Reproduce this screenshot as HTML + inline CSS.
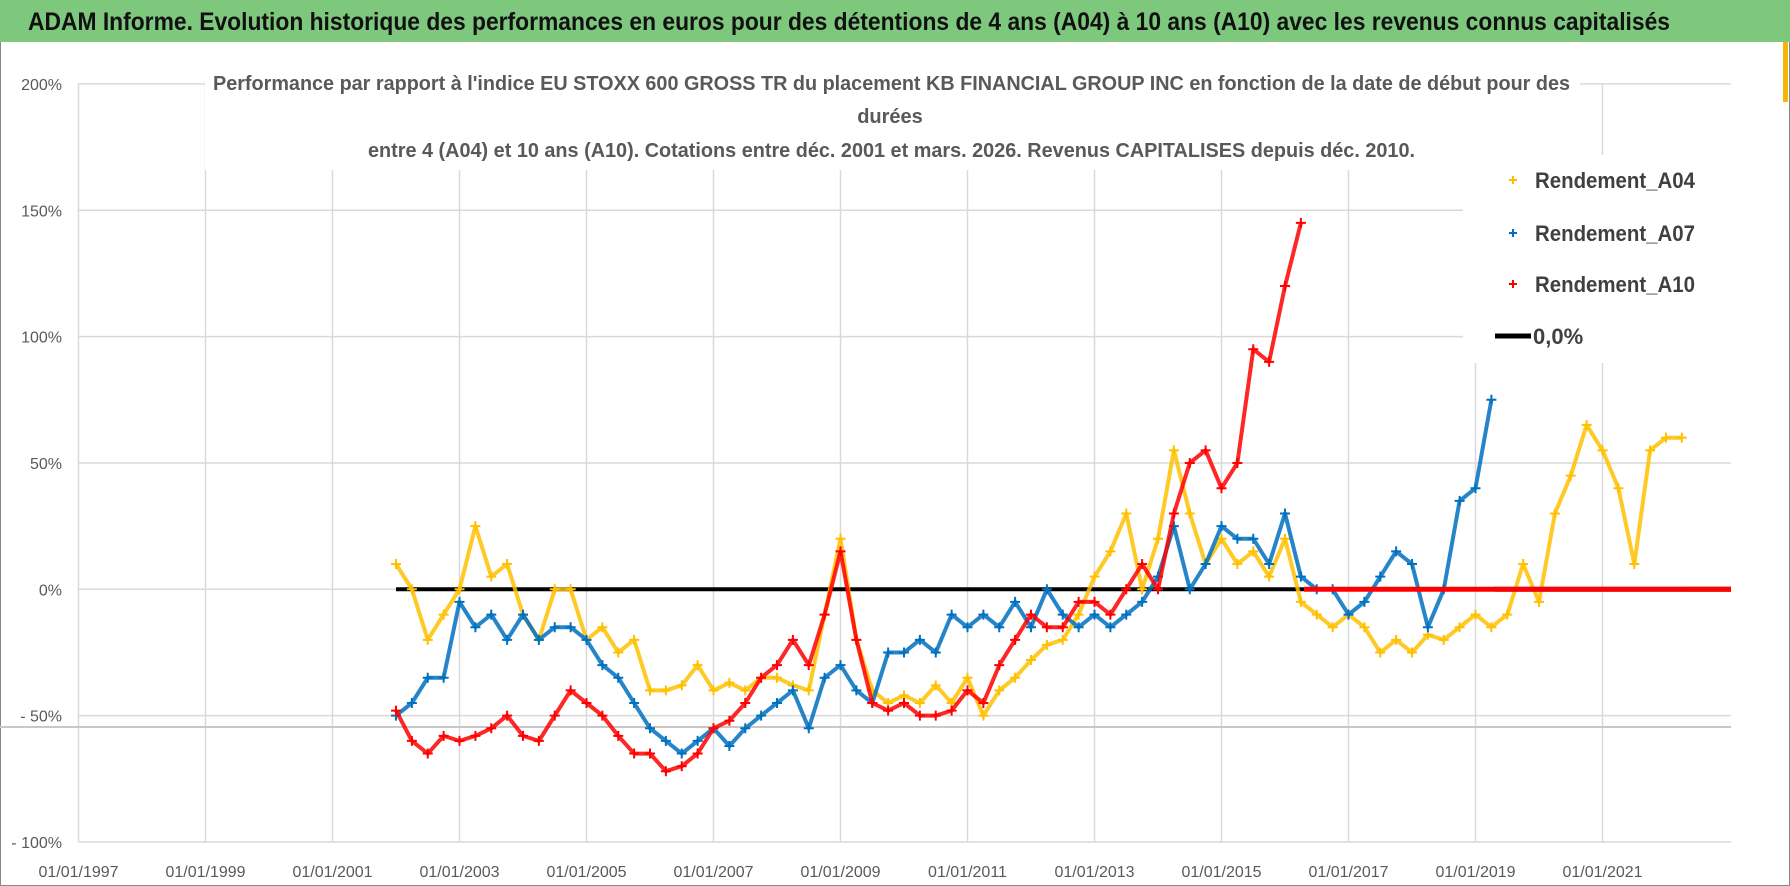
<!DOCTYPE html>
<html><head><meta charset="utf-8"><style>
html,body{margin:0;padding:0;background:#fff;}
svg{display:block;font-family:"Liberation Sans",sans-serif;}
</style></head><body>
<svg id="chart" width="1790" height="886" viewBox="0 0 1790 886" xmlns="http://www.w3.org/2000/svg">
<rect x="0" y="0" width="1790" height="886" fill="#fff"/>
<rect x="0.5" y="0.5" width="1789" height="885" fill="none" stroke="#888"/>
<rect x="0" y="0" width="1790" height="42" fill="#7dc87d"/>
<text x="28" y="30" font-size="25" font-weight="bold" fill="#111" textLength="1642" lengthAdjust="spacingAndGlyphs">ADAM Informe. Evolution historique des performances en euros pour des détentions de 4 ans (A04) à 10 ans (A10) avec les revenus connus capitalisés</text>
<rect x="1783" y="42" width="5" height="60" fill="#f2b705"/>
<g id="grid"></g>
<g id="axes"></g>
<line x1="0" y1="727" x2="1731" y2="727" stroke="#c8c8c8" stroke-width="2"/>
<g id="series"></g>
<rect x="205" y="64" width="1375" height="106" fill="#fff"/>
<g fill="#595959" font-weight="bold" font-size="20">
<text x="213" y="90" textLength="1357" lengthAdjust="spacingAndGlyphs">Performance par rapport à l'indice EU STOXX 600 GROSS TR  du placement KB FINANCIAL GROUP INC en fonction de la date de début pour des</text>
<text x="890" y="123" text-anchor="middle">durées</text>
<text x="368" y="157" textLength="1047" lengthAdjust="spacingAndGlyphs">entre 4 (A04) et 10 ans (A10). Cotations entre déc. 2001 et mars. 2026. Revenus CAPITALISES depuis déc. 2010.</text>
</g>
<g>
<rect x="1463" y="155" width="268" height="208" fill="#fff"/>
<g><path d="M1509 180h8M1513 176v8" stroke="#ffc000" stroke-width="2"/><text x="1535" y="188" font-size="22" font-weight="bold" fill="#404040" textLength="160" lengthAdjust="spacingAndGlyphs">Rendement_A04</text></g>
<g><path d="M1509 233h8M1513 229v8" stroke="#0070c0" stroke-width="2"/><text x="1535" y="241" font-size="22" font-weight="bold" fill="#404040" textLength="160" lengthAdjust="spacingAndGlyphs">Rendement_A07</text></g>
<g><path d="M1509 284h8M1513 280v8" stroke="#ff0000" stroke-width="2"/><text x="1535" y="292" font-size="22" font-weight="bold" fill="#404040" textLength="160" lengthAdjust="spacingAndGlyphs">Rendement_A10</text></g>
<g><line x1="1495" y1="336" x2="1531" y2="336" stroke="#000" stroke-width="5"/><text x="1533" y="344" font-size="22" font-weight="bold" fill="#404040">0,0%</text></g>
</g>
</svg>
<script>
const dates = [2002,2002.25,2002.5,2002.75,2003,2003.25,2003.5,2003.75,2004,2004.25,2004.5,2004.75,2005,2005.25,2005.5,2005.75,2006,2006.25,2006.5,2006.75,2007,2007.25,2007.5,2007.75,2008,2008.25,2008.5,2008.75,2009,2009.25,2009.5,2009.75,2010,2010.25,2010.5,2010.75,2011,2011.25,2011.5,2011.75,2012,2012.25,2012.5,2012.75,2013,2013.25,2013.5,2013.75,2014,2014.25,2014.5,2014.75,2015,2015.25,2015.5,2015.75,2016,2016.25,2016.5,2016.75,2017,2017.25,2017.5,2017.75,2018,2018.25,2018.5,2018.75,2019,2019.25,2019.5,2019.75,2020,2020.25,2020.5,2020.75,2021,2021.25,2021.5,2021.75,2022,2022.25,2022.5,2022.75,2023];
const a04 = [10,0,-20,-10,0,25,5,10,-10,-20,0,0,-20,-15,-25,-20,-40,-40,-38,-30,-40,-37,-40,-35,-35,-38,-40,-10,20,-20,-40,-45,-42,-45,-38,-45,-35,-50,-40,-35,-28,-22,-20,-10,5,15,30,0,20,55,30,10,20,10,15,5,20,-5,-10,-15,-10,-15,-25,-20,-25,-18,-20,-15,-10,-15,-10,10,-5,30,45,65,55,40,10,55,60,60,0,0,0];
const a07 = [-50,-45,-35,-35,-5,-15,-10,-20,-10,-20,-15,-15,-20,-30,-35,-45,-55,-60,-65,-60,-55,-62,-55,-50,-45,-40,-55,-35,-30,-40,-45,-25,-25,-20,-25,-10,-15,-10,-15,-5,-15,0,-10,-15,-10,-15,-10,-5,5,25,0,10,25,20,20,10,30,5,0,0,-10,-5,5,15,10,-15,0,35,40,75,0,0,0,0,0,0,0,0,0,0,0,0,0,0,0];
const a10 = [-48,-60,-65,-58,-60,-58,-55,-50,-58,-60,-50,-40,-45,-50,-58,-65,-65,-72,-70,-65,-55,-52,-45,-35,-30,-20,-30,-10,15,-20,-45,-48,-45,-50,-50,-48,-40,-45,-30,-20,-10,-15,-15,-5,-5,-10,0,10,0,30,50,55,40,50,95,90,120,145,0,0,0,0,0,0,0,0,0,0,0,0,0,0,0,0,0,0,0,0,0,0,0,0,0,0,0];
const yTicks = [200,150,100,50,0,-50,-100];
const yTickLabels = ["200%","150%","100%","50%","0%","- 50%","- 100%"];
const xTicks = [1997,1999,2001,2003,2005,2007,2009,2011,2013,2015,2017,2019,2021];
const xTickLabels = ["01/01/1997","01/01/1999","01/01/2001","01/01/2003","01/01/2005","01/01/2007","01/01/2009","01/01/2011","01/01/2013","01/01/2015","01/01/2017","01/01/2019","01/01/2021"];
const zeroStart = 2002, zeroEnd = 2016.3;

const NS = "http://www.w3.org/2000/svg";
const X0 = 78.5, XR = 1731;
const xs = y => X0 + (y - 1997) * 63.5;
const ys = v => 589.3 - v * 2.527;
function mk(tag, attrs, parent){const e=document.createElementNS(NS,tag);for(const k in attrs)e.setAttribute(k,attrs[k]);parent.appendChild(e);return e;}
const grid=document.getElementById('grid'), axes=document.getElementById('axes'), ser=document.getElementById('series');
yTicks.forEach((t,i)=>{
  const l=mk('line',{x1:X0,x2:XR,y1:ys(t),y2:ys(t),stroke:'#d9d9d9','stroke-width':1.5},grid);
  
  
  const tx=mk('text',{x:62,y:ys(t)+6,'text-anchor':'end','font-size':16,fill:'#595959'},axes);
  tx.textContent=yTickLabels[i];
  
  
});
xTicks.forEach((t,i)=>{
  const l=mk('line',{x1:xs(t),x2:xs(t),y1:ys(200),y2:ys(-100),stroke:'#d9d9d9','stroke-width':1.5},grid);
  
  
  const tx=mk('text',{x:xs(t),y:877,'text-anchor':'middle','font-size':16,fill:'#595959'},axes);
  tx.textContent=xTickLabels[i];
  
  
});
const zl=mk('line',{x1:xs(zeroStart),x2:xs(zeroEnd),y1:ys(0),y2:ys(0),stroke:'#000','stroke-width':4},ser);


function drawSeries(vals,color,name){
  const g=mk('g',{},ser);
  
  
  let last=vals.length-1;
  while(last>0 && vals[last]===0) last--;
  const pts=dates.slice(0,last+1).map((d,i)=>xs(d).toFixed(1)+','+ys(vals[i]).toFixed(1)).join(' ');
  const pl=mk('polyline',{points:pts,fill:'none',stroke:color,'stroke-width':4,'stroke-linejoin':'round','stroke-opacity':0.85},g);
  
  
  if(last<vals.length-1){
    const tl=mk('line',{x1:xs(dates[last]+0.05),x2:XR,y1:ys(0),y2:ys(0),stroke:color,'stroke-width':5},g);
    
    
  }
  dates.forEach((d,i)=>{
    if(i>last) return;
    const x=xs(d), y=ys(vals[i]);
    const p=mk('path',{d:`M${x-5} ${y}h10M${x} ${y-5}v10`,stroke:color,'stroke-width':2},g);
    
    
  });
}
drawSeries(a04,'#ffc000','series-a04');
drawSeries(a07,'#0070c0','series-a07');
drawSeries(a10,'#ff0000','series-a10');
</script>
</body></html>
